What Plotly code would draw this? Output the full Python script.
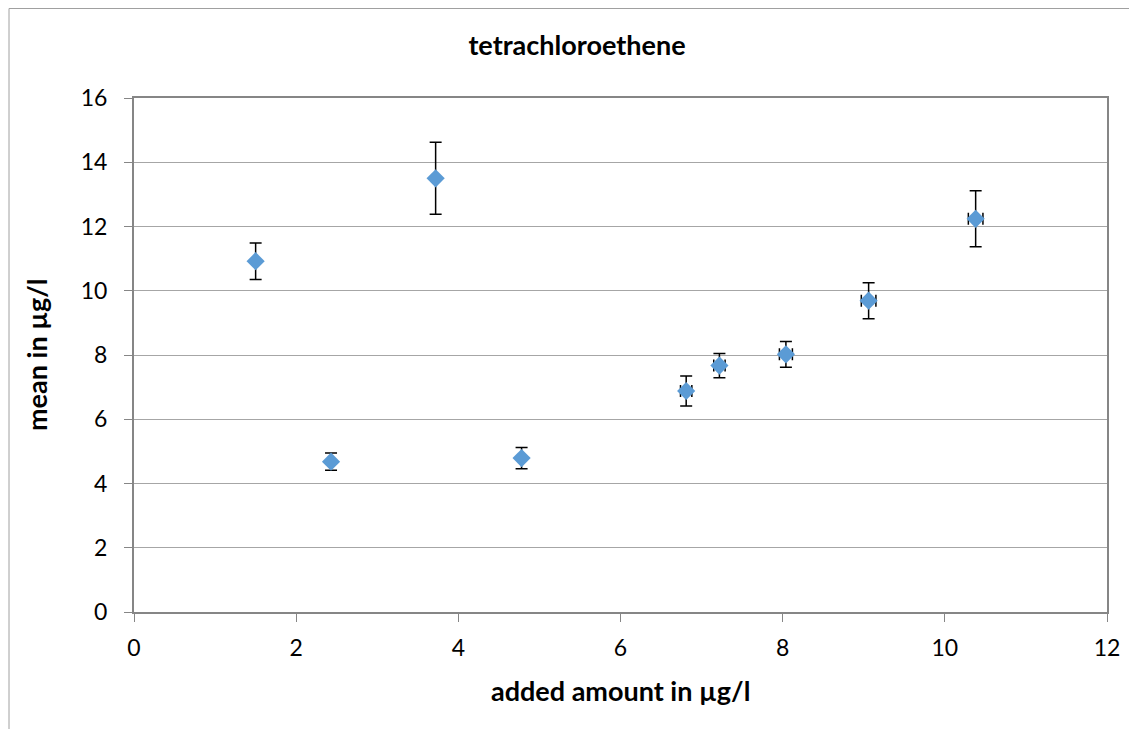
import plotly.graph_objects as go

# values
added = [1.50, 2.43, 3.72, 4.78, 6.81, 7.22, 8.04, 9.06, 10.38]
mean = [10.92, 4.68, 13.50, 4.79, 6.88, 7.67, 8.02, 9.69, 12.24]
err_y = [0.57, 0.27, 1.12, 0.33, 0.47, 0.38, 0.40, 0.56, 0.87]
err_x = [0.0, 0.0, 0.0, 0.0, 0.07, 0.07, 0.08, 0.09, 0.09]

x_ticks = [0, 2, 4, 6, 8, 10, 12]
y_ticks = [0, 2, 4, 6, 8, 10, 12, 14, 16]

FONT = "Lato"
GREY = "#868686"

# page has an 8px body margin, so the figure is 8px smaller than the window
fig = go.Figure()

fig.add_trace(go.Scatter(
    x=added,
    y=mean,
    mode="markers",
    marker=dict(symbol="diamond", size=14, color="#5B9BD5"),
    error_y=dict(type="data", array=err_y, visible=True,
                 color="black", thickness=1.5, width=6),
    error_x=dict(type="data", array=err_x, visible=True,
                 color="black", thickness=1.5, width=6),
    showlegend=False,
))

fig.update_layout(
    width=1129, height=721,
    paper_bgcolor="white", plot_bgcolor="white",
    margin=dict(l=126, r=30, t=90, b=117),
    font=dict(family=FONT, color="black", size=23),
    title=dict(text="<b>tetrachloroethene</b>", x=569 / 1129, xanchor="center",
               y=1 - 38 / 721, yanchor="middle",
               font=dict(family=FONT, size=27, color="black")),
)

fig.update_xaxes(
    range=[0, 12], tickvals=x_ticks, showgrid=False, zeroline=False,
    showline=True, linecolor=GREY, linewidth=2, mirror=True,
    ticks="outside", ticklen=8, tickcolor=GREY, tickwidth=1,
    ticklabelstandoff=6,
    tickfont=dict(size=23, family=FONT),
)
fig.update_yaxes(
    range=[0, 16], tickvals=y_ticks, showgrid=True, gridcolor="#a6a6a6",
    gridwidth=1, zeroline=False,
    showline=True, linecolor=GREY, linewidth=2, mirror=True,
    ticks="outside", ticklen=8, tickcolor=GREY, tickwidth=1,
    ticklabelstandoff=12,
    tickfont=dict(size=23, family=FONT),
)

# axis titles
fig.add_annotation(text="<b>added amount in µg/l</b>", xref="paper", yref="paper",
                   x=(620 - 134) / 973, y=-(690 - 612) / 514,
                   xanchor="center", yanchor="middle", showarrow=False,
                   font=dict(family=FONT, size=27, color="black"))
fig.add_annotation(text="<b>mean in µg/l</b>", xref="paper", yref="paper",
                   x=-(134 - 36) / 973, y=(612 - 355) / 514, textangle=-90,
                   xanchor="center", yanchor="middle", showarrow=False,
                   font=dict(family=FONT, size=27, color="black"))

# outer chart border (runs off the right and bottom of the picture)
fig.add_shape(type="rect", xref="paper", yref="paper",
              x0=(9 - 134) / 973, x1=(1160 - 134) / 973,
              y0=(612 - 760) / 514, y1=(612 - 8.5) / 514,
              line=dict(color="#a0a0a0", width=1), layer="below")

fig.write_html("out.html")
